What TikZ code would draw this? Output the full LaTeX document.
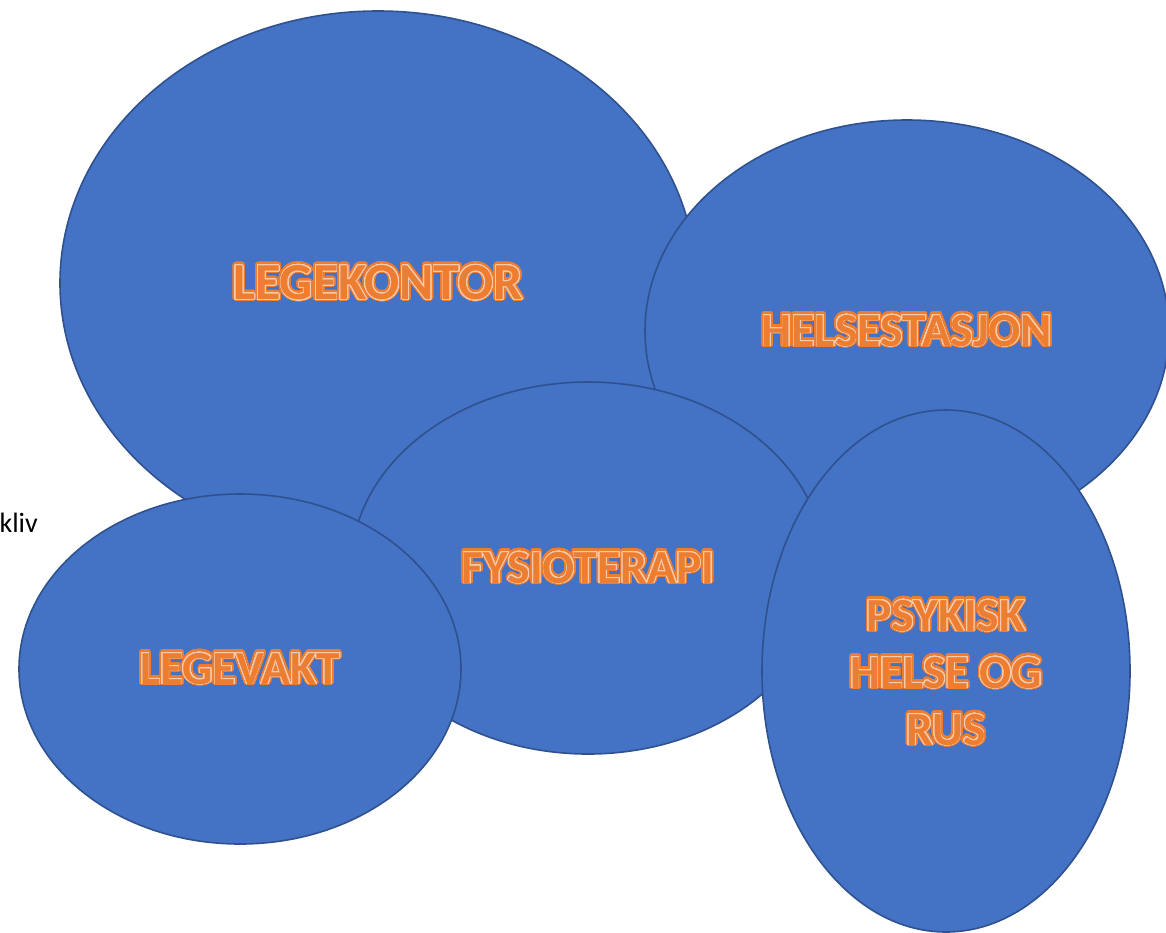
\documentclass[tikz,border=0pt]{standalone}
\usepackage{fontspec}
\setmainfont{Carlito}
\usepackage[copies]{contour}
\usetikzlibrary{shapes.geometric}
\definecolor{fillblue}{HTML}{4472C4}
\definecolor{edgeblue}{HTML}{2F528F}
\definecolor{txtorange}{HTML}{ED7D31}
\definecolor{txtlight}{HTML}{F8CBAD}
\contournumber{32}
\newcommand\outerglow[1]{\contourlength{2.6pt}\contour{txtorange}{\textcolor{txtorange}{#1}}}
\newcommand\innerring[1]{\contourlength{0.8pt}\contour{txtlight}{\textcolor{txtorange}{#1}}}
\tikzset{
  blob/.style={ellipse, draw=edgeblue, fill=fillblue, line width=1.6pt, inner sep=0pt},
  lbl/.style={font=\bfseries\fontsize{#1}{57}\selectfont, inner sep=0pt},
}
\newcommand\glowlabel[4]{%
  \node[lbl=#2] (#1o) at (#3) {\outerglow{#4}};
  \node[lbl=#2] (#1i) at (#3) {\innerring{#4}};
}
\begin{document}
\begin{tikzpicture}[x=1pt,y=-1pt]
\useasboundingbox (0,0) rectangle (1166,932);
\clip (0,0) rectangle (1166,932);
\node[anchor=base east, font=\fontsize{28}{32}\selectfont, inner sep=0pt] (kliv) at (38,532) {kliv};
\node[blob, minimum width=636pt, minimum height=544pt] (legekontor) at (378,283) {};
\node[blob, minimum width=524pt, minimum height=422pt] (helsestasjon) at (907,331) {};
\node[blob, minimum width=474pt, minimum height=372pt] (fysioterapi) at (588,568) {};
\node[blob, minimum width=442pt, minimum height=350pt] (legevakt) at (240,669) {};
\node[blob, minimum width=368pt, minimum height=522pt] (psykisk) at (946,671) {};
\coordinate (pc) at ([yshift=-6pt]psykisk.center);
\glowlabel{t1}{52}{legekontor.center}{LEGEKONTOR}
\glowlabel{t2}{47.5}{helsestasjon.center}{HELSESTASJON}
\glowlabel{t3}{47.5}{fysioterapi.center}{FYSIOTERAPI}
\glowlabel{t4}{47.5}{legevakt.center}{LEGEVAKT}
\glowlabel{t5}{47.5}{pc}{\begin{tabular}{@{}c@{}}PSYKISK\\HELSE OG\\RUS\end{tabular}}
\end{tikzpicture}
\end{document}
